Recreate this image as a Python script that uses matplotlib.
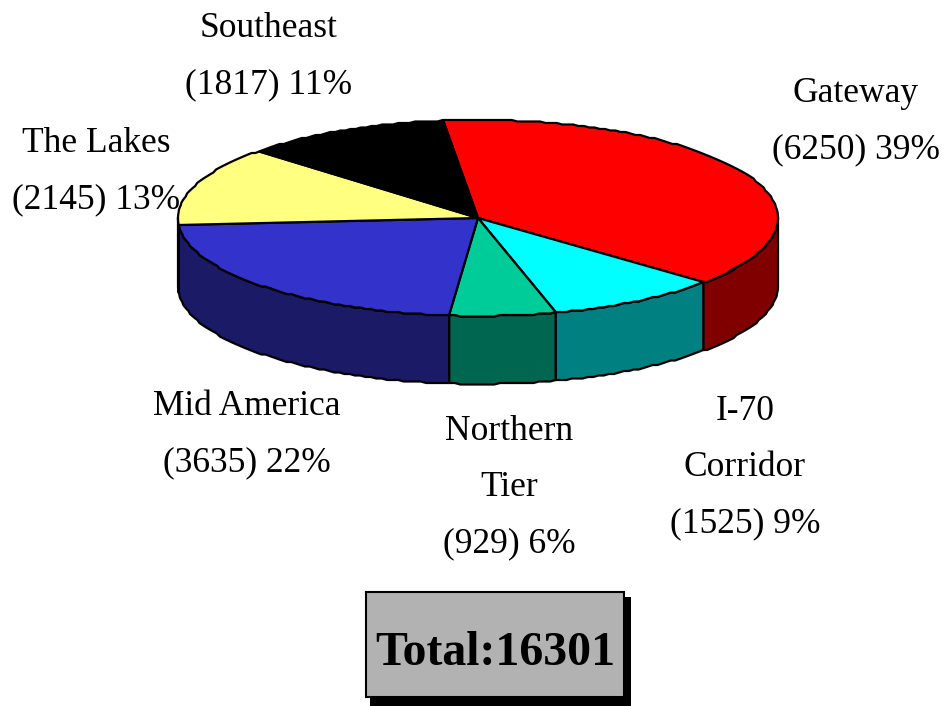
import numpy as np
import matplotlib
matplotlib.use('Agg')
import matplotlib.pyplot as plt
from matplotlib.patches import Polygon, Rectangle

names = ['Gateway', 'I-70\nCorridor', 'Northern\nTier', 'Mid America', 'The Lakes', 'Southeast']
values = [6250, 1525, 929, 3635, 2145, 1817]
pcts = [39, 9, 6, 22, 13, 11]
top_colors = ['#FF0000', '#00FFFF', '#00CC99', '#3333CC', '#FFFF80', '#000000']
side_colors = ['#800000', '#008080', '#006650', '#1A1A66', '#808040', '#000000']
label_pos = [(856, 122), (745, 468), (509, 488), (247, 435), (96, 172), (269, 57)]
total = 16301

cx, cy, rx, ry, depth = 478, 218, 300, 98, 68

plt.rcParams['font.family'] = ['Liberation Serif', 'DejaVu Serif']

fig = plt.figure(figsize=(9.45, 7.06), dpi=100)
ax = fig.add_axes([0, 0, 1, 1])
ax.set_xlim(0, 945)
ax.set_ylim(706, 0)
ax.axis('off')


def rim(a, b):
    # snapped y: the rim in the original is slightly wavy
    n = max(int(abs(a - b) / 1.1) + 2, 3)
    t = np.radians(np.linspace(a, b, n))
    y = cy - ry * np.sin(t)
    return cx + rx * np.cos(t), np.round(y / 1.5) * 1.5


# wedge angles, clockwise from the top
edges = 96.7 - np.concatenate([[0], np.cumsum(values)]) / sum(values) * 360

# side walls first (only the front part shows)
for i in range(len(values)):
    a, b = edges[i], edges[i + 1]
    lo, hi = max(b, -180), min(a, 0)
    if lo >= hi:
        continue
    x, y = rim(hi, lo)
    px = np.concatenate([x, x[::-1]])
    py = np.concatenate([y, y[::-1] + depth])
    ax.add_patch(Polygon(np.column_stack([px, py]), closed=True, fc=side_colors[i],
                         ec='black', lw=1.6, joinstyle='round'))

for i in range(len(values)):
    x, y = rim(edges[i], edges[i + 1])
    px = np.concatenate([[cx], x])
    py = np.concatenate([[cy], y])
    ax.add_patch(Polygon(np.column_stack([px, py]), closed=True, fc=top_colors[i],
                         ec='black', lw=1.6, joinstyle='round'))

for i in range(len(values)):
    s = '%s\n(%d) %d%%' % (names[i], values[i], pcts[i])
    ax.text(label_pos[i][0], label_pos[i][1], s, ha='center', va='center', fontsize=25.5,
            linespacing=1.93, color='black')

# total box with drop shadow
ax.add_patch(Rectangle((370, 597), 261, 109, fc='black', ec='black', lw=0))
ax.add_patch(Rectangle((365.5, 592), 258.5, 105, fc='#B2B2B2', ec='black', lw=1.5))
ax.text(495, 653, 'Total:%d' % total, ha='center', va='center', fontsize=34.5, fontweight='bold')

fig.savefig('out.png', dpi=100)
